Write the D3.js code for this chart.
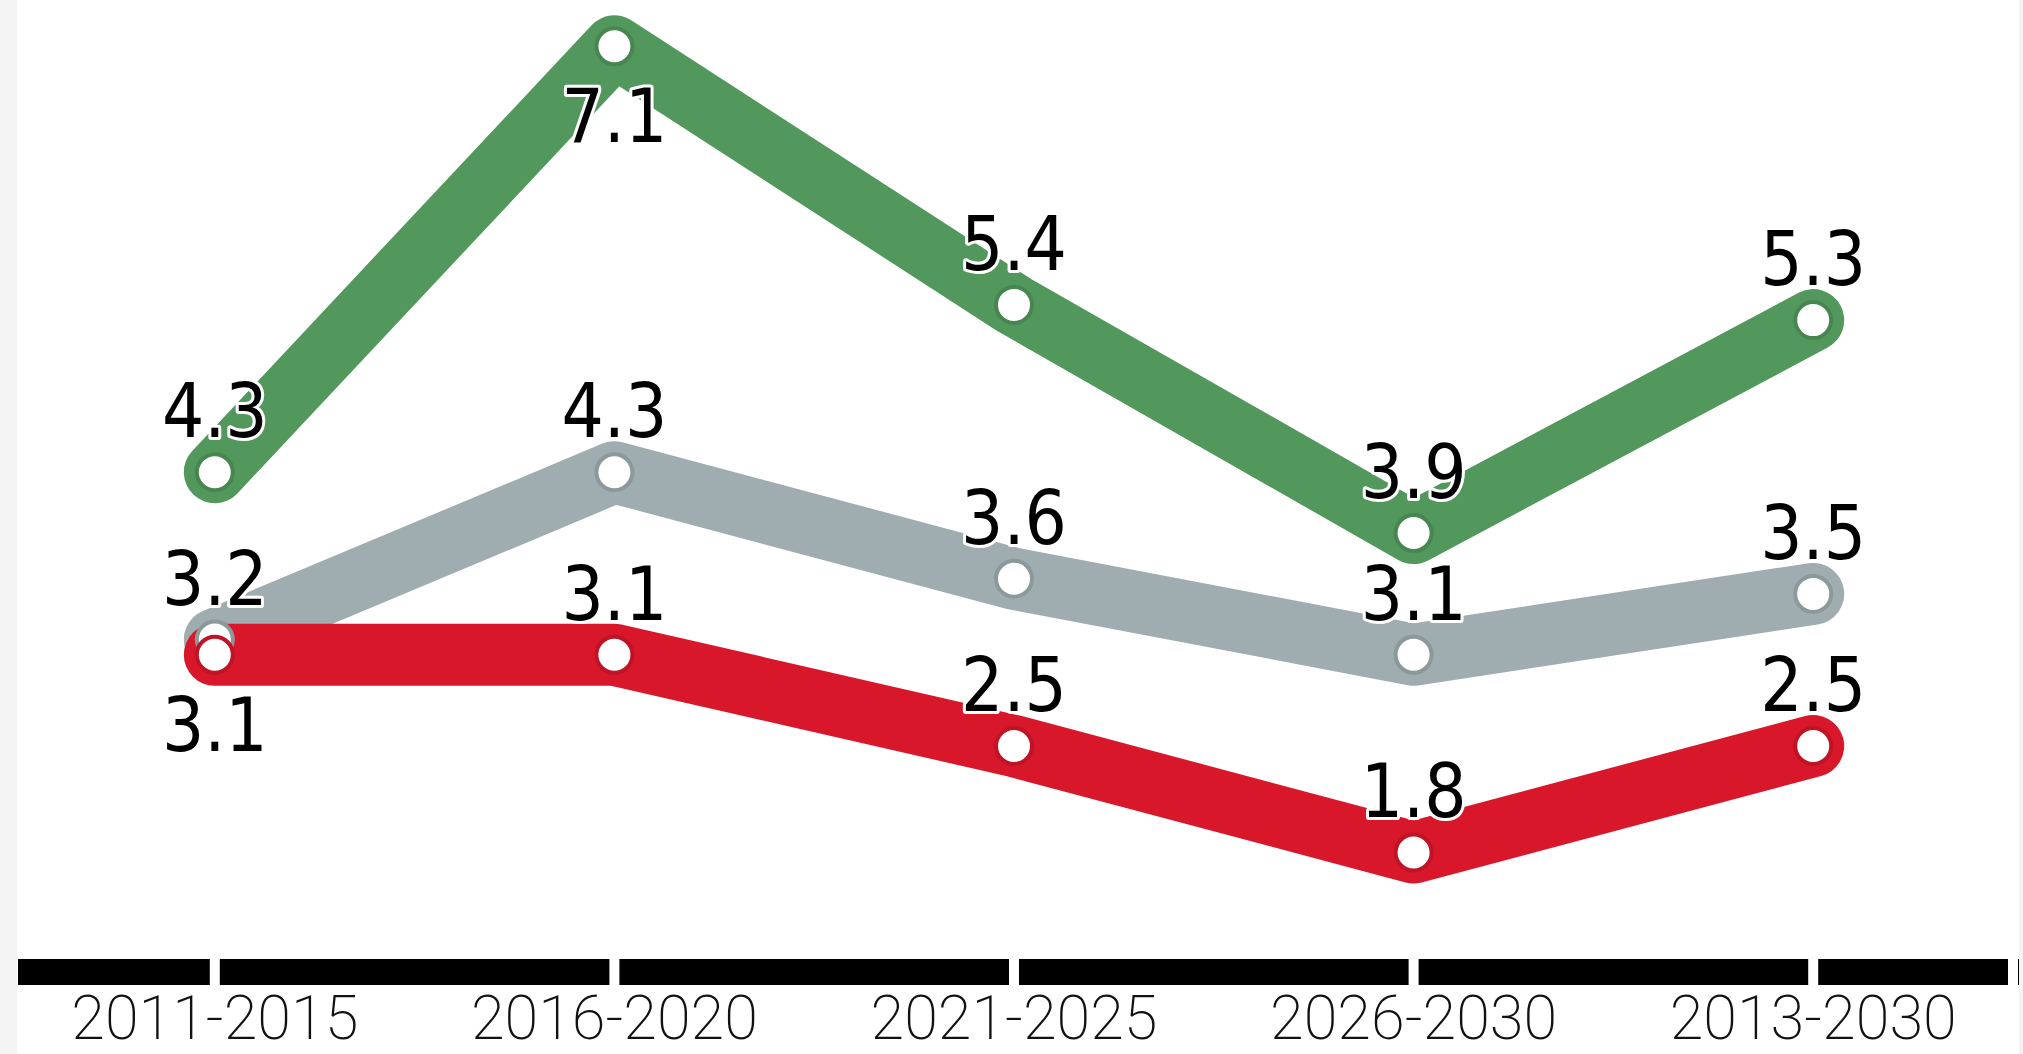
<!DOCTYPE html>
<html>
<head>
<meta charset="utf-8">
<script src="https://cdn.jsdelivr.net/npm/d3@7"></script>
<style>
  html, body { margin: 0; padding: 0; background: #fff; }
  svg { display: block; }
</style>
</head>
<body>
<svg id="chart" width="2023" height="1054"></svg>
<script>
// ---- data ----
const categories = ["2011-2015", "2016-2020", "2021-2025", "2026-2030", "2013-2030"];
const greyValues  = [3.2, 4.3, 3.6, 3.1, 3.5];
const greenValues = [4.3, 7.1, 5.4, 3.9, 5.3];
const redValues   = [3.1, 3.1, 2.5, 1.8, 2.5];

// ---- layout / style ----
const W = 2023, H = 1054;
const colors = { grey: "#9fadb0", green: "#52985c", red: "#d8172b" };
const labelBelow = { grey: [false,false,false,false,false],
                     green: [false,true,false,false,false],
                     red: [true,false,false,false,false] };

const series = [
  { name: "grey",  values: greyValues },
  { name: "green", values: greenValues },
  { name: "red",   values: redValues }
];

const svg = d3.select("#chart");

// background strips
svg.append("rect").attr("x", 0).attr("y", 0).attr("width", W).attr("height", H).attr("fill", "#fff");
svg.append("rect").attr("x", 0).attr("y", 0).attr("width", 17).attr("height", H).attr("fill", "#f4f4f4");
svg.append("rect").attr("x", 2019).attr("y", 0).attr("width", 4).attr("height", H).attr("fill", "#f4f4f4");

const x = d3.scalePoint().domain(categories).range([15, 2013]).padding(0.5);
const y = d3.scaleLinear().domain([0, 7.1]).range([1126.3, 46.3]);

// axis bar with gaps at ticks
const barY = 959, barH = 26;
const [r0, r1] = x.range();
svg.append("rect").attr("x", r0 + 3).attr("y", barY).attr("width", r1 - r0 + 3).attr("height", barH).attr("fill", "#000");
const gapXs = categories.map(c => x(c)).concat([r1]);
svg.selectAll(".gap").data(gapXs).enter().append("rect")
  .attr("x", d => d - 5).attr("y", barY - 2).attr("width", 10).attr("height", barH + 4)
  .attr("fill", "#fff");

// axis labels
svg.selectAll(".xlab").data(categories).enter().append("text")
  .attr("x", d => x(d)).attr("y", 1039)
  .attr("text-anchor", "middle")
  .attr("font-family", "Roboto, 'Liberation Sans', sans-serif")
  .attr("font-weight", 200)
  .attr("font-size", 62)
  .attr("textLength", 287)
  .attr("lengthAdjust", "spacingAndGlyphs")
  .attr("fill", "#111")
  .text(d => d);

// lines
const line = d3.line().x((d, i) => x(categories[i])).y(d => y(d));
series.forEach(s => {
  svg.append("path")
    .datum(s.values)
    .attr("d", line)
    .attr("fill", "none")
    .attr("stroke", colors[s.name])
    .attr("stroke-width", 62)
    .attr("stroke-linejoin", "round")
    .attr("stroke-linecap", "round");
});

// markers
series.forEach(s => {
  const dark = d3.color(colors[s.name]).darker(0.35).formatHex();
  svg.selectAll(null).data(s.values).enter().append("circle")
    .attr("cx", (d, i) => x(categories[i])).attr("cy", d => y(d))
    .attr("r", 18)
    .attr("fill", "#fff")
    .attr("stroke", dark)
    .attr("stroke-width", 4);
});

// value labels
series.forEach(s => {
  svg.selectAll(null).data(s.values).enter().append("text")
    .attr("x", (d, i) => x(categories[i]))
    .attr("y", (d, i) => y(d) + (labelBelow[s.name][i] ? 70 : -61))
    .attr("dominant-baseline", "central")
    .attr("text-anchor", "middle")
    .attr("font-family", "'DejaVu Sans Condensed', 'DejaVu Sans', sans-serif")
    .style("font-stretch", "condensed")
    .attr("font-size", 74)
    .attr("fill", "#000")
    .attr("stroke", "#fff")
    .attr("stroke-width", 6)
    .attr("stroke-linejoin", "round")
    .attr("paint-order", "stroke")
    .text(d => d.toFixed(1));
});
</script>
</body>
</html>
